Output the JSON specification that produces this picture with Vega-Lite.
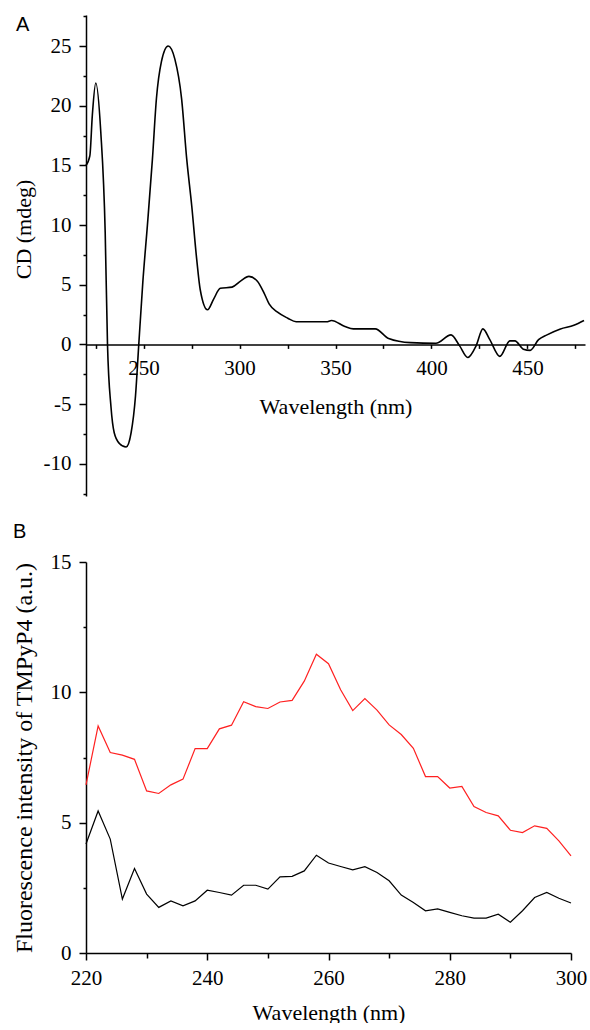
{
  "$schema": "https://vega.github.io/schema/vega-lite/v6.json",
  "padding": {"left": 12, "top": 15, "right": 2, "bottom": 0},
  "spacing": 26,
  "config": {
    "font": "Liberation Serif",
    "view": {"stroke": null},
    "axis": {"grid": false, "domainColor": "black", "tickColor": "black", "labelColor": "black", "titleColor": "black",
      "labelFont": "Liberation Serif", "titleFont": "Liberation Serif", "labelFontSize": 21, "titleFontSize": 22,
      "titleFontWeight": "normal", "domainWidth": 1.5, "tickWidth": 1.5, "labelFlush": false},
    "title": {"font": "Liberation Sans", "fontSize": 20, "fontWeight": "normal", "anchor": "start", "frame": "group", "color": "black"}
  },
  "datasets": {
    "cd": [
      {"wavelength": 220, "cd": 15.0}, {"wavelength": 222, "cd": 15.8}, {"wavelength": 223.3, "cd": 19.2},
      {"wavelength": 225.1, "cd": 21.9}, {"wavelength": 227.7, "cd": 17.8}, {"wavelength": 230, "cd": 9.4},
      {"wavelength": 231.2, "cd": 0}, {"wavelength": 233, "cd": -5.2}, {"wavelength": 234.7, "cd": -7.4},
      {"wavelength": 237.4, "cd": -8.3}, {"wavelength": 240.9, "cd": -8.6}, {"wavelength": 243.5, "cd": -7.4},
      {"wavelength": 245.8, "cd": -4.3}, {"wavelength": 247.5, "cd": 0}, {"wavelength": 249.6, "cd": 5.2},
      {"wavelength": 252, "cd": 10.0}, {"wavelength": 254.6, "cd": 15.5}, {"wavelength": 256.7, "cd": 20.6},
      {"wavelength": 259.3, "cd": 23.7}, {"wavelength": 262.8, "cd": 25.0}, {"wavelength": 266.3, "cd": 23.9},
      {"wavelength": 269.8, "cd": 20.6}, {"wavelength": 272.5, "cd": 15.5}, {"wavelength": 275.1, "cd": 11.6},
      {"wavelength": 277.7, "cd": 7.1}, {"wavelength": 279.5, "cd": 4.6}, {"wavelength": 283.3, "cd": 2.9},
      {"wavelength": 286.5, "cd": 3.8}, {"wavelength": 290, "cd": 4.7}, {"wavelength": 296.1, "cd": 4.8},
      {"wavelength": 300.5, "cd": 5.3}, {"wavelength": 304.9, "cd": 5.7}, {"wavelength": 309.3, "cd": 5.3},
      {"wavelength": 312.8, "cd": 4.3}, {"wavelength": 315.4, "cd": 3.4}, {"wavelength": 319.8, "cd": 2.7},
      {"wavelength": 325.1, "cd": 2.2}, {"wavelength": 329.5, "cd": 1.9}, {"wavelength": 345.3, "cd": 1.9},
      {"wavelength": 347.9, "cd": 2.0}, {"wavelength": 354.9, "cd": 1.5}, {"wavelength": 359.3, "cd": 1.3},
      {"wavelength": 370.7, "cd": 1.3}, {"wavelength": 377.7, "cd": 0.5}, {"wavelength": 389.1, "cd": 0.15},
      {"wavelength": 402.3, "cd": 0.1}, {"wavelength": 410.2, "cd": 0.8}, {"wavelength": 414.6, "cd": -0.1},
      {"wavelength": 418.9, "cd": -1.1}, {"wavelength": 423.3, "cd": -0.1}, {"wavelength": 426.8, "cd": 1.3},
      {"wavelength": 430.4, "cd": 0.4}, {"wavelength": 435.6, "cd": -1.0}, {"wavelength": 440.9, "cd": 0.3},
      {"wavelength": 443.5, "cd": 0.3}, {"wavelength": 447.9, "cd": -0.4}, {"wavelength": 451.4, "cd": -0.5},
      {"wavelength": 455.8, "cd": 0.4}, {"wavelength": 460.2, "cd": 0.8}, {"wavelength": 467.2, "cd": 1.3},
      {"wavelength": 474.2, "cd": 1.6}, {"wavelength": 479.5, "cd": 2.0}
    ],
    "fluo": [
      {"wavelength": 220, "intensity": 6.45, "series": "s1"}, {"wavelength": 222, "intensity": 8.71, "series": "s1"},
      {"wavelength": 224, "intensity": 7.69, "series": "s1"}, {"wavelength": 226, "intensity": 7.59, "series": "s1"},
      {"wavelength": 228, "intensity": 7.43, "series": "s1"}, {"wavelength": 230, "intensity": 6.22, "series": "s1"},
      {"wavelength": 232, "intensity": 6.12, "series": "s1"}, {"wavelength": 234, "intensity": 6.45, "series": "s1"},
      {"wavelength": 236, "intensity": 6.67, "series": "s1"}, {"wavelength": 238, "intensity": 7.84, "series": "s1"},
      {"wavelength": 240, "intensity": 7.84, "series": "s1"}, {"wavelength": 242, "intensity": 8.6, "series": "s1"},
      {"wavelength": 244, "intensity": 8.74, "series": "s1"}, {"wavelength": 246, "intensity": 9.64, "series": "s1"},
      {"wavelength": 248, "intensity": 9.45, "series": "s1"}, {"wavelength": 250, "intensity": 9.38, "series": "s1"},
      {"wavelength": 252, "intensity": 9.63, "series": "s1"}, {"wavelength": 254, "intensity": 9.69, "series": "s1"},
      {"wavelength": 256, "intensity": 10.43, "series": "s1"}, {"wavelength": 258, "intensity": 11.46, "series": "s1"},
      {"wavelength": 260, "intensity": 11.1, "series": "s1"}, {"wavelength": 262, "intensity": 10.1, "series": "s1"},
      {"wavelength": 264, "intensity": 9.3, "series": "s1"}, {"wavelength": 266, "intensity": 9.76, "series": "s1"},
      {"wavelength": 268, "intensity": 9.32, "series": "s1"}, {"wavelength": 270, "intensity": 8.75, "series": "s1"},
      {"wavelength": 272, "intensity": 8.38, "series": "s1"}, {"wavelength": 274, "intensity": 7.85, "series": "s1"},
      {"wavelength": 276, "intensity": 6.77, "series": "s1"}, {"wavelength": 278, "intensity": 6.77, "series": "s1"},
      {"wavelength": 280, "intensity": 6.33, "series": "s1"}, {"wavelength": 282, "intensity": 6.39, "series": "s1"},
      {"wavelength": 284, "intensity": 5.62, "series": "s1"}, {"wavelength": 286, "intensity": 5.39, "series": "s1"},
      {"wavelength": 288, "intensity": 5.26, "series": "s1"}, {"wavelength": 290, "intensity": 4.71, "series": "s1"},
      {"wavelength": 292, "intensity": 4.62, "series": "s1"}, {"wavelength": 294, "intensity": 4.88, "series": "s1"},
      {"wavelength": 296, "intensity": 4.78, "series": "s1"}, {"wavelength": 298, "intensity": 4.3, "series": "s1"},
      {"wavelength": 300, "intensity": 3.73, "series": "s1"},
      {"wavelength": 220, "intensity": 4.18, "series": "s2"}, {"wavelength": 222, "intensity": 5.45, "series": "s2"},
      {"wavelength": 224, "intensity": 4.37, "series": "s2"}, {"wavelength": 226, "intensity": 2.07, "series": "s2"},
      {"wavelength": 228, "intensity": 3.24, "series": "s2"}, {"wavelength": 230, "intensity": 2.26, "series": "s2"},
      {"wavelength": 232, "intensity": 1.75, "series": "s2"}, {"wavelength": 234, "intensity": 2.0, "series": "s2"},
      {"wavelength": 236, "intensity": 1.81, "series": "s2"}, {"wavelength": 238, "intensity": 2.0, "series": "s2"},
      {"wavelength": 240, "intensity": 2.41, "series": "s2"}, {"wavelength": 242, "intensity": 2.32, "series": "s2"},
      {"wavelength": 244, "intensity": 2.22, "series": "s2"}, {"wavelength": 246, "intensity": 2.6, "series": "s2"},
      {"wavelength": 248, "intensity": 2.6, "series": "s2"}, {"wavelength": 250, "intensity": 2.45, "series": "s2"},
      {"wavelength": 252, "intensity": 2.92, "series": "s2"}, {"wavelength": 254, "intensity": 2.94, "series": "s2"},
      {"wavelength": 256, "intensity": 3.15, "series": "s2"}, {"wavelength": 258, "intensity": 3.75, "series": "s2"},
      {"wavelength": 260, "intensity": 3.45, "series": "s2"}, {"wavelength": 262, "intensity": 3.32, "series": "s2"},
      {"wavelength": 264, "intensity": 3.19, "series": "s2"}, {"wavelength": 266, "intensity": 3.31, "series": "s2"},
      {"wavelength": 268, "intensity": 3.09, "series": "s2"}, {"wavelength": 270, "intensity": 2.77, "series": "s2"},
      {"wavelength": 272, "intensity": 2.22, "series": "s2"}, {"wavelength": 274, "intensity": 1.94, "series": "s2"},
      {"wavelength": 276, "intensity": 1.62, "series": "s2"}, {"wavelength": 278, "intensity": 1.69, "series": "s2"},
      {"wavelength": 280, "intensity": 1.56, "series": "s2"}, {"wavelength": 282, "intensity": 1.43, "series": "s2"},
      {"wavelength": 284, "intensity": 1.34, "series": "s2"}, {"wavelength": 286, "intensity": 1.34, "series": "s2"},
      {"wavelength": 288, "intensity": 1.49, "series": "s2"}, {"wavelength": 290, "intensity": 1.18, "series": "s2"},
      {"wavelength": 292, "intensity": 1.62, "series": "s2"}, {"wavelength": 294, "intensity": 2.13, "series": "s2"},
      {"wavelength": 296, "intensity": 2.32, "series": "s2"}, {"wavelength": 298, "intensity": 2.1, "series": "s2"},
      {"wavelength": 300, "intensity": 1.92, "series": "s2"}
    ]
  },
  "vconcat": [
    {
      "width": 499,
      "height": 481,
      "title": {"text": "A", "dx": -70, "dy": 20, "offset": 0},
      "data": {"name": "cd"},
      "mark": {"type": "line", "color": "black", "strokeWidth": 1.6, "interpolate": "monotone"},
      "encoding": {
        "x": {
          "field": "wavelength", "type": "quantitative",
          "scale": {"domain": [220, 480], "nice": false, "zero": false},
          "axis": {"title": "Wavelength (nm)", "values": [225, 250, 275, 300, 325, 350, 375, 400, 425, 450, 475],
            "labelExpr": "datum.value % 50 == 0 ? datum.label : ''", "tickSize": 4, "offset": -151.6,
            "labelPadding": 9, "titlePadding": 18}
        },
        "y": {
          "field": "cd", "type": "quantitative",
          "scale": {"domain": [-12.7, 27.6], "nice": false, "zero": false},
          "axis": {"title": "CD (mdeg)",
            "values": [-12.5, -10, -7.5, -5, -2.5, 0, 2.5, 5, 7.5, 10, 12.5, 15, 17.5, 20, 22.5, 25, 27.5],
            "labelExpr": "datum.value % 5 == 0 ? '' + datum.value : ''",
            "tickSize": {"condition": {"test": "datum.value % 5 != 0", "value": 3}, "value": 7},
            "labelPadding": 8, "titlePadding": 8, "titleY": 214}
        }
      }
    },
    {
      "width": 485,
      "height": 391,
      "title": {"text": "B", "dx": -73, "offset": 9},
      "data": {"name": "fluo"},
      "mark": {"type": "line", "strokeWidth": 1.2},
      "encoding": {
        "x": {
          "field": "wavelength", "type": "quantitative",
          "scale": {"domain": [220, 300], "nice": false, "zero": false},
          "axis": {"title": "Wavelength (nm)", "values": [220, 230, 240, 250, 260, 270, 280, 290, 300],
            "labelExpr": "datum.value % 20 == 0 ? datum.label : ''",
            "tickSize": {"condition": {"test": "datum.value % 20 != 0", "value": 5}, "value": 7},
            "labelPadding": 7, "titlePadding": 14}
        },
        "y": {
          "field": "intensity", "type": "quantitative",
          "scale": {"domain": [0, 15], "nice": false},
          "axis": {"title": "Fluorescence intensity of TMPyP4 (a.u.)", "titleFontSize": 24,
            "values": [0, 2.5, 5, 7.5, 10, 12.5, 15],
            "labelExpr": "datum.value % 5 == 0 ? '' + datum.value : ''",
            "tickSize": {"condition": {"test": "datum.value % 5 != 0", "value": 3}, "value": 7},
            "labelPadding": 8, "titlePadding": 14}
        },
        "color": {"field": "series", "type": "nominal", "scale": {"domain": ["s1", "s2"], "range": ["#ff2020", "#000000"]}, "legend": null}
      }
    }
  ]
}
